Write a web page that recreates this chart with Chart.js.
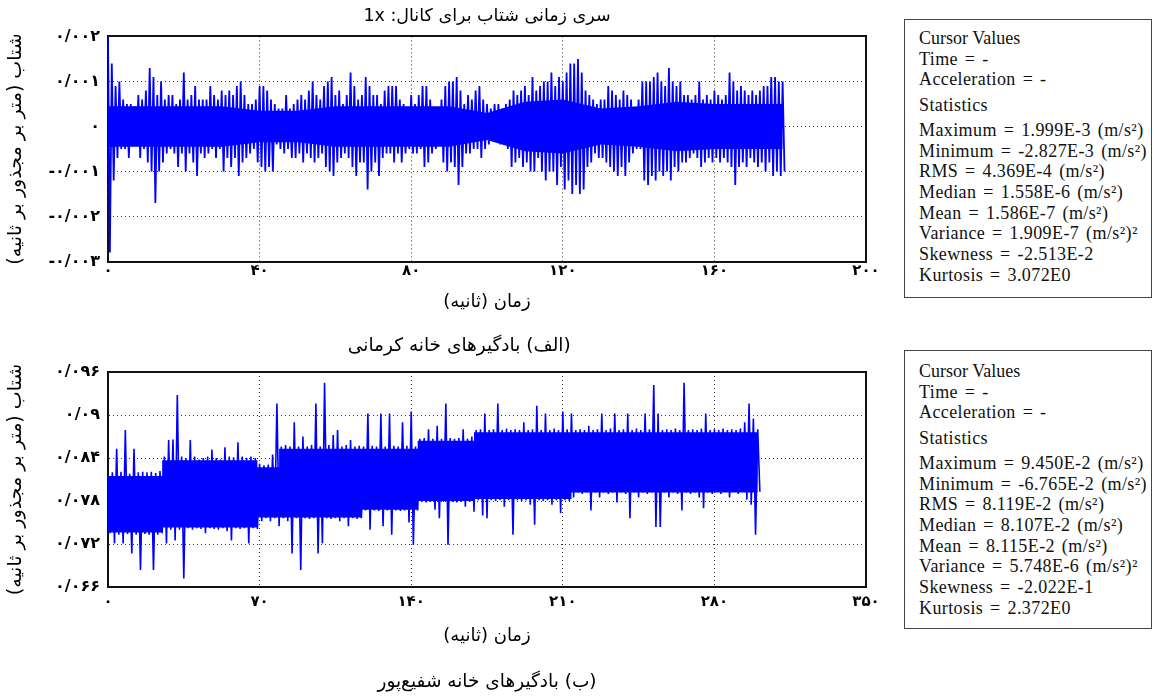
<!DOCTYPE html>
<html lang="fa">
<head>
<meta charset="utf-8">
<script src="https://cdn.jsdelivr.net/npm/chart.js@4.4.1/dist/chart.umd.min.js"></script>
<style>
  body { margin: 0; width: 1154px; height: 700px; background: #fff; position: relative; overflow: hidden; }
  canvas { position: absolute; left: 0; }
  #topChart { top: 0; }
  #bottomChart { top: 335px; }
  .stats { position: absolute; left: 904px; width: 248px; height: 279px; border: 1px solid #444;
           box-sizing: border-box; padding-left: 14px; font-family: 'Liberation Serif', serif;
           font-size: 18px; color: #111; }
  .stats div { line-height: 20.7px; white-space: nowrap; letter-spacing: 0.4px; word-spacing: 2px; }
  .stats div.head { letter-spacing: 0; word-spacing: 0; }
  .stats .gap { margin-top: 4.5px; }
  #stats1 { top: 19px; padding-top: 8px; }
  #stats2 { top: 350px; padding-top: 10px; }
</style>
</head>
<body>
<canvas id="topChart" width="895" height="360" dir="rtl"></canvas>
<canvas id="bottomChart" width="895" height="365" dir="rtl"></canvas>
<div class="stats" id="stats1"></div>
<div class="stats" id="stats2"></div>
<script>
// kermani house (a) - acceleration, m/s^2, peaks / troughs read once per second
const topStep = 1;
const topUpper = [
  0.0020, 0.0014, 0.0009, 0.0010, 0.0006, 0.0005, 0.0005, 0.00045, 0.0007, 0.0006,
  0.0008, 0.0013, 0.0011, 0.0007, 0.0010, 0.0006, 0.0007, 0.0007, 0.0005, 0.0006,
  0.0012, 0.0006, 0.0007, 0.0009, 0.0006, 0.0006, 0.0006, 0.0009, 0.0007, 0.0006,
  0.0008, 0.0007, 0.0008, 0.0007, 0.0009, 0.0010, 0.0007, 0.0005, 0.0005, 0.0006,
  0.0009, 0.0009, 0.0008, 0.0006, 0.0005, 0.0004, 0.0004, 0.0007, 0.0004, 0.0005,
  0.0006, 0.0007, 0.0006, 0.0008, 0.0010, 0.0007, 0.0006, 0.0009, 0.0010, 0.0011,
  0.0007, 0.0008, 0.0005, 0.0007, 0.0012, 0.0009, 0.0006, 0.0007, 0.0011, 0.0009,
  0.0007, 0.0007, 0.0005, 0.0008, 0.0009, 0.0009, 0.0009, 0.0006, 0.0005, 0.0004,
  0.0007, 0.0005, 0.0007, 0.0009, 0.0009, 0.0006, 0.0004, 0.0003, 0.0006, 0.0009,
  0.0010, 0.0010, 0.0011, 0.0008, 0.0005, 0.0007, 0.0006, 0.0008, 0.0009, 0.0006,
  0.0005, 0.0004, 0.0005, 0.0005, 0.0004, 0.0005, 0.0006, 0.0008, 0.0007, 0.0008,
  0.0009, 0.0007, 0.0011, 0.0008, 0.0009, 0.0010, 0.0010, 0.0012, 0.0009, 0.0011,
  0.0010, 0.0012, 0.0014, 0.0014, 0.0015, 0.0012, 0.0008, 0.0007, 0.0006, 0.0005,
  0.0006, 0.0006, 0.0009, 0.0008, 0.0007, 0.0006, 0.0008, 0.0007, 0.0006, 0.0004,
  0.0006, 0.0010, 0.0010, 0.0010, 0.0011, 0.0012, 0.0010, 0.0009, 0.0013, 0.0010,
  0.0009, 0.0010, 0.0007, 0.0007, 0.0006, 0.0007, 0.0010, 0.0006, 0.0007, 0.0006,
  0.0008, 0.0007, 0.0006, 0.0007, 0.0012, 0.0010, 0.0008, 0.0009, 0.0008, 0.0007,
  0.0008, 0.0007, 0.0008, 0.0009, 0.0009, 0.0011, 0.0011, 0.0010, 0.0010
];
const topLower = [
  -0.0028, -0.0012, -0.0007, -0.0005, -0.0005, -0.0007, -0.0004, -0.0004, -0.0007, -0.0005,
  -0.0008, -0.0010, -0.0017, -0.0010, -0.0008, -0.0006, -0.0005, -0.0006, -0.0009, -0.0006,
  -0.0010, -0.0006, -0.0008, -0.0011, -0.0006, -0.0007, -0.0006, -0.0005, -0.0007, -0.0005,
  -0.0010, -0.0007, -0.0009, -0.0007, -0.0011, -0.0008, -0.0007, -0.0006, -0.0005, -0.0008,
  -0.0009, -0.0010, -0.0009, -0.0010, -0.0004, -0.0005, -0.0006, -0.0005, -0.0007, -0.0007,
  -0.0006, -0.0008, -0.0006, -0.0007, -0.0008, -0.0007, -0.0006, -0.0009, -0.0010, -0.0011,
  -0.0008, -0.0007, -0.0006, -0.0007, -0.0009, -0.0011, -0.0008, -0.0008, -0.0014, -0.0010,
  -0.0008, -0.0011, -0.0007, -0.0006, -0.0006, -0.0008, -0.0006, -0.0008, -0.0006, -0.0005,
  -0.0006, -0.0006, -0.0005, -0.0009, -0.0008, -0.0006, -0.0005, -0.0004, -0.0008, -0.0010,
  -0.0008, -0.0009, -0.0013, -0.0009, -0.0006, -0.0006, -0.0005, -0.0005, -0.0007, -0.0005,
  -0.0004, -0.0003, -0.0003, -0.0004, -0.0004, -0.0005, -0.0009, -0.0008, -0.0007, -0.0009,
  -0.0008, -0.0010, -0.0010, -0.0007, -0.0010, -0.0012, -0.0010, -0.0010, -0.0013, -0.0009,
  -0.0014, -0.0012, -0.0015, -0.0013, -0.0015, -0.0014, -0.0009, -0.0008, -0.0006, -0.0007,
  -0.0007, -0.0008, -0.0009, -0.0010, -0.0011, -0.0009, -0.0011, -0.0008, -0.0006, -0.0005,
  -0.0005, -0.0012, -0.0013, -0.0011, -0.0012, -0.0010, -0.0011, -0.0010, -0.0012, -0.0009,
  -0.0010, -0.0008, -0.0008, -0.0007, -0.0006, -0.0007, -0.0009, -0.0008, -0.0007, -0.0008,
  -0.0007, -0.0008, -0.0007, -0.0008, -0.0009, -0.0013, -0.0009, -0.0008, -0.0009, -0.0007,
  -0.0008, -0.0009, -0.0008, -0.0010, -0.0008, -0.0011, -0.0010, -0.0011, -0.0010
];
// dense (solid) core of the trace, read every 10 s
const topCoreTimes = [0, 10, 20, 30, 40, 50, 60, 70, 80, 90, 100, 110, 120, 130, 140, 150, 160, 170, 178];
const topCoreUpper = [0.00045, 0.00045, 0.00045, 0.00045, 0.00035, 0.00035, 0.00045, 0.00045, 0.00045, 0.00045,
  0.0003, 0.00055, 0.0006, 0.0004, 0.00045, 0.00055, 0.0005, 0.0005, 0.0005];
const topCoreLower = [-0.00045, -0.00045, -0.00045, -0.00045, -0.00035, -0.00035, -0.00045, -0.00045, -0.00045, -0.00045,
  -0.0003, -0.00055, -0.0006, -0.0004, -0.00045, -0.00055, -0.0005, -0.0005, -0.0005];
const topXTicks = [0, 40, 80, 120, 160, 200];
const topXLabels = ['۰', '۴۰', '۸۰', '۱۲۰', '۱۶۰', '۲۰۰'];
const topYTicks = [-0.003, -0.002, -0.001, 0, 0.001, 0.002];
const topYLabels = ['-۰/۰۰۳', '-۰/۰۰۲', '-۰/۰۰۱', '۰', '۰/۰۰۱', '۰/۰۰۲'];

// shafiepour house (b) - peaks / troughs read every 2 seconds
const bottomStep = 2;
const bottomUpper = [
  0.0815, 0.0820, 0.0853, 0.0821, 0.0879, 0.0818, 0.0853, 0.0820, 0.0821, 0.0820,
  0.0821, 0.0819, 0.0822, 0.0842, 0.0865, 0.0866, 0.0928, 0.0842, 0.0840, 0.0865,
  0.0842, 0.0838, 0.0840, 0.0842, 0.0852, 0.0840, 0.0838, 0.0855, 0.0842, 0.0841,
  0.0862, 0.0842, 0.0840, 0.0842, 0.0840, 0.0832, 0.0830, 0.0831, 0.0845, 0.0916,
  0.0856, 0.0858, 0.0856, 0.0890, 0.0856, 0.0870, 0.0856, 0.0858, 0.0916, 0.0856,
  0.0945, 0.0858, 0.0872, 0.0879, 0.0856, 0.0858, 0.0865, 0.0856, 0.0857, 0.0856,
  0.0902, 0.0857, 0.0856, 0.0902, 0.0856, 0.0902, 0.0857, 0.0856, 0.0890, 0.0857,
  0.0905, 0.0856, 0.0867, 0.0868, 0.0880, 0.0867, 0.0885, 0.0867, 0.0916, 0.0868,
  0.0867, 0.0868, 0.0880, 0.0867, 0.0870, 0.0879, 0.0880, 0.0902, 0.0879, 0.0880,
  0.0916, 0.0879, 0.0881, 0.0879, 0.0880, 0.0879, 0.0890, 0.0879, 0.0880, 0.0913,
  0.0879, 0.0902, 0.0879, 0.0881, 0.0879, 0.0905, 0.0880, 0.0902, 0.0879, 0.0880,
  0.0879, 0.0885, 0.0879, 0.0880, 0.0902, 0.0879, 0.0881, 0.0902, 0.0879, 0.0880,
  0.0902, 0.0879, 0.0881, 0.0879, 0.0902, 0.0880, 0.0942, 0.0902, 0.0879, 0.0880,
  0.0879, 0.0881, 0.0879, 0.0945, 0.0879, 0.0880, 0.0879, 0.0881, 0.0902, 0.0879,
  0.0880, 0.0879, 0.0881, 0.0879, 0.0880, 0.0879, 0.0881, 0.0890, 0.0916, 0.0895,
  0.0880
];
const bottomLower = [
  0.0735, 0.0721, 0.0733, 0.0721, 0.0734, 0.0707, 0.0733, 0.0684, 0.0734, 0.0733,
  0.0684, 0.0733, 0.0735, 0.0721, 0.0740, 0.0725, 0.0740, 0.0672, 0.0742, 0.0740,
  0.0742, 0.0741, 0.0735, 0.0742, 0.0741, 0.0740, 0.0742, 0.0738, 0.0725, 0.0742,
  0.0741, 0.0742, 0.0721, 0.0742, 0.0741, 0.0752, 0.0756, 0.0752, 0.0756, 0.0745,
  0.0756, 0.0752, 0.0707, 0.0756, 0.0684, 0.0756, 0.0755, 0.0756, 0.0707, 0.0721,
  0.0756, 0.0755, 0.0756, 0.0752, 0.0756, 0.0745, 0.0756, 0.0755, 0.0756, 0.0767,
  0.0740, 0.0767, 0.0766, 0.0745, 0.0767, 0.0733, 0.0767, 0.0766, 0.0767, 0.0750,
  0.0719, 0.0767, 0.0779, 0.0778, 0.0779, 0.0768, 0.0756, 0.0779, 0.0719, 0.0779,
  0.0778, 0.0779, 0.0772, 0.0779, 0.0765, 0.0781, 0.0760, 0.0756, 0.0781, 0.0780,
  0.0781, 0.0772, 0.0781, 0.0733, 0.0781, 0.0780, 0.0781, 0.0775, 0.0747, 0.0781,
  0.0780, 0.0781, 0.0775, 0.0781, 0.0763, 0.0781, 0.0780, 0.0785, 0.0792, 0.0790,
  0.0792, 0.0767, 0.0792, 0.0785, 0.0792, 0.0790, 0.0792, 0.0778, 0.0792, 0.0790,
  0.0756, 0.0792, 0.0785, 0.0792, 0.0790, 0.0792, 0.0744, 0.0744, 0.0792, 0.0785,
  0.0792, 0.0790, 0.0767, 0.0792, 0.0790, 0.0792, 0.0785, 0.0770, 0.0792, 0.0790,
  0.0793, 0.0790, 0.0793, 0.0785, 0.0793, 0.0790, 0.0793, 0.0782, 0.0775, 0.0733,
  0.0793
];
// solid band of the trace: level changes at these times
const bottomCoreTimes = [0, 25, 69, 79, 117, 143, 169, 214, 300];
const bottomCoreUpper = [0.0815, 0.0837, 0.0827, 0.0853, 0.0853, 0.0864, 0.0876, 0.0876, 0.0876];
const bottomCoreLower = [0.0736, 0.0743, 0.0757, 0.0757, 0.0768, 0.0780, 0.0783, 0.0792, 0.0792];
const bottomXTicks = [0, 70, 140, 210, 280, 350];
const bottomXLabels = ['۰', '۷۰', '۱۴۰', '۲۱۰', '۲۸۰', '۳۵۰'];
const bottomYTicks = [0.066, 0.072, 0.078, 0.084, 0.09, 0.096];
const bottomYLabels = ['۰/۰۶۶', '۰/۰۷۲', '۰/۰۷۸', '۰/۰۸۴', '۰/۰۹', '۰/۰۹۶'];

const topStats = ['Maximum = 1.999E-3 (m/s²)', 'Minimum = -2.827E-3 (m/s²)', 'RMS = 4.369E-4 (m/s²)',
  'Median = 1.558E-6 (m/s²)', 'Mean = 1.586E-7 (m/s²)', 'Variance = 1.909E-7 (m/s²)²',
  'Skewness = -2.513E-2', 'Kurtosis = 3.072E0'];
const bottomStats = ['Maximum = 9.450E-2 (m/s²)', 'Minimum = -6.765E-2 (m/s²)', 'RMS = 8.119E-2 (m/s²)',
  'Median = 8.107E-2 (m/s²)', 'Mean = 8.115E-2 (m/s²)', 'Variance = 5.748E-6 (m/s²)²',
  'Skewness = -2.022E-1', 'Kurtosis = 2.372E0'];

Chart.defaults.font.family = "'DejaVu Sans', sans-serif";
Chart.defaults.color = '#000';

const BLUE = '#0000ff';

// alternate the read peaks and troughs into one trace
function zigzag(upper, lower, step) {
  const pts = [];
  upper.forEach((u, i) => {
    pts.push({ x: i * step, y: u });
    pts.push({ x: i * step + step / 2, y: lower[i] });
  });
  return pts;
}

const pairs = (xs, ys) => xs.map((x, i) => ({ x, y: ys[i] }));

const isolate = (s) => '\u2066' + s + '\u2069';
const frame = { display: true, color: '#111', width: 2 };

function makeChart(id, o) {
  const core = { borderWidth: 0, pointRadius: 0, tension: 0, stepped: o.coreStepped, backgroundColor: BLUE };
  return new Chart(document.getElementById(id), {
    type: 'line',
    data: {
      datasets: [
        { data: zigzag(o.upper, o.lower, o.step), borderColor: BLUE, borderWidth: o.lineWidth, pointRadius: 0, tension: 0, fill: false },
        { ...core, data: pairs(o.coreTimes, o.coreUpper), fill: '+1' },
        { ...core, data: pairs(o.coreTimes, o.coreLower), fill: false },
      ],
    },
    options: {
      responsive: false,
      animation: false,
      devicePixelRatio: 1,
      layout: { padding: { left: 0, right: 29, top: o.padTop, bottom: 0 } },
      plugins: {
        legend: { display: false },
        tooltip: { enabled: false },
        title: {
          display: !!o.title,
          text: o.title,
          fullSize: false,
          font: { size: 17.5, weight: 'normal' },
          padding: { top: 6, bottom: 9.4 },
        },
        subtitle: {
          display: true,
          position: 'bottom',
          text: o.caption,
          fullSize: false,
          font: { size: 18.5 },
          padding: { top: o.capTop, bottom: o.capBottom },
        },
      },
      scales: {
        x: {
          type: 'linear',
          min: o.xTicks[0],
          max: o.xTicks[o.xTicks.length - 1],
          afterBuildTicks: (s) => { s.ticks = o.xTicks.map((v) => ({ value: v })); },
          ticks: {
            callback: (v, i) => o.xLabels[i],
            font: { size: 15, weight: 'bold' },
            padding: o.xTickPad,
            maxRotation: 0,
            autoSkip: false,
          },
          grid: { color: '#333', drawTicks: false },
          border: { ...frame, dash: [1, 3] },
          title: { display: true, text: 'زمان (ثانیه)', font: { size: 18 }, padding: { top: o.xTitlePad, bottom: 0 } },
        },
        y: {
          type: 'linear',
          min: o.yTicks[0],
          max: o.yTicks[o.yTicks.length - 1],
          afterBuildTicks: (s) => { s.ticks = o.yTicks.map((v) => ({ value: v })); },
          afterFit: (s) => { s.width = 108; },
          ticks: {
            callback: (v, i) => isolate(o.yLabels[i]),
            font: { size: 16, weight: 'bold' },
            padding: 8,
          },
          grid: { color: '#333', drawTicks: false },
          border: { ...frame, dash: [1, 3] },
          title: { display: true, text: 'شتاب (متر بر مجذور بر ثانیه)', font: { size: 19 }, padding: { top: 5, bottom: 0 } },
        },
        x2: { type: 'linear', position: 'top', ticks: { display: false }, grid: { display: false, drawTicks: false }, border: frame },
        y2: { type: 'linear', position: 'right', ticks: { display: false }, grid: { display: false, drawTicks: false }, border: frame },
      },
    },
  });
}

makeChart('topChart', {
  upper: topUpper, lower: topLower, step: topStep, lineWidth: 1.8,
  coreTimes: topCoreTimes, coreUpper: topCoreUpper, coreLower: topCoreLower, coreStepped: false,
  xTicks: topXTicks, xLabels: topXLabels, yTicks: topYTicks, yLabels: topYLabels,
  title: 'سری زمانی شتاب برای کانال: 1x',
  caption: '\u2003\u2003\u2003(الف) بادگیرهای خانه کرمانی',
  padTop: 0, xTickPad: 1, xTitlePad: 10.4, capTop: 21, capBottom: 3.2,
});

makeChart('bottomChart', {
  upper: bottomUpper, lower: bottomLower, step: bottomStep, lineWidth: 1.6,
  coreTimes: bottomCoreTimes, coreUpper: bottomCoreUpper, coreLower: bottomCoreLower, coreStepped: 'before',
  xTicks: bottomXTicks, xLabels: bottomXLabels, yTicks: bottomYTicks, yLabels: bottomYLabels,
  title: '',
  caption: '(ب) بادگیرهای خانه شفیع‌پور',
  padTop: 37, xTickPad: 5.8, xTitlePad: 8.9, capTop: 23.4, capBottom: 7.2,
});

function fillStats(id, lines) {
  const box = document.getElementById(id);
  const head = ['Cursor Values', 'Time = -', 'Acceleration = -', 'Statistics'];
  head.concat(lines).forEach((t, i) => {
    const d = document.createElement('div');
    d.textContent = t;
    if (i === 0) d.className = 'head';
    if (i === 3 || i === 4) d.className = 'gap';
    box.appendChild(d);
  });
}
fillStats('stats1', topStats);
fillStats('stats2', bottomStats);
</script>
</body>
</html>
